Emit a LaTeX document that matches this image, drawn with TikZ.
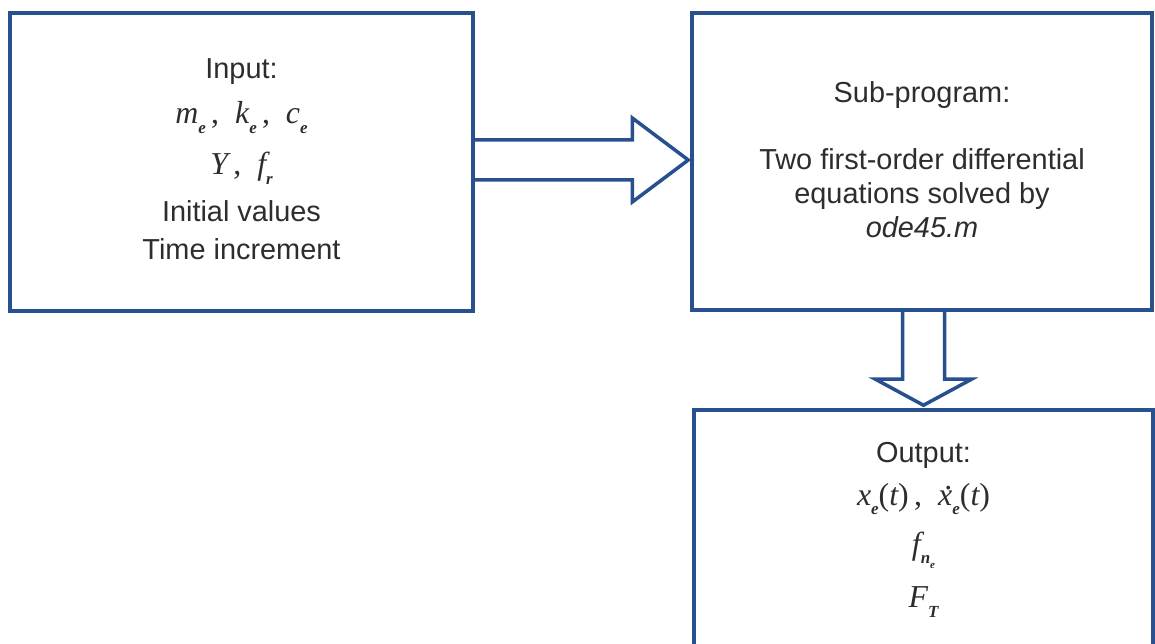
\documentclass[tikz,border=0pt]{standalone}
\usepackage{fontspec}
\setmainfont{Liberation Sans}
\newfontfamily\tnr{Liberation Serif}
\usetikzlibrary{calc}
\definecolor{boxblue}{RGB}{40,80,142}
\definecolor{txt}{RGB}{45,45,45}
\newcommand\mv[1]{{\fontsize{32}{34}\selectfont\tnr\itshape #1}}
\newcommand\sbs[1]{\raisebox{-0.3em}{\fontsize{17}{17}\selectfont\tnr\itshape\bfseries #1}}
\newcommand\ssbs[1]{\raisebox{-0.3em}{\fontsize{11}{11}\selectfont\tnr\itshape\bfseries #1}}
\newcommand\xdot{\ooalign{x\cr\hspace{0.2em}\raisebox{0.5em}{\upshape.}\cr}}
\newcommand\cm{\,{\upshape,}\enspace}
\newcommand\dstrut[1]{\rule[-#1]{0pt}{#1}}
\tikzset{
  x=1bp, y=-1bp,
  box/.style={draw=boxblue, line width=3.5bp, rectangle, inner sep=0pt,
    align=center, text=txt, font=\fontsize{29}{34}\selectfont},
  blockarrow/.style={draw=boxblue, line width=3.5bp, line join=miter}
}
\begin{document}
\begin{tikzpicture}
\fill[white] (0,0) rectangle (1155,644);
\useasboundingbox (0,0) rectangle (1155,644);

\node[box, minimum width=463bp, minimum height=298bp] (in) at (241.5,162)
  {Input:\\[11bp]
   \mv{m\sbs{e}\cm k\sbs{e}\cm c\sbs{e}}\\[17bp]
   \mv{Y\cm f\sbs{r}}\\[13bp]
   Initial values\\[4bp]
   Time increment\dstrut{6bp}};

\node[box, minimum width=460bp, minimum height=297bp] (sub) at (922,161.5)
  {Sub-program:\\[34bp]
   Two first-order differential\\
   equations solved by\\
   \textit{ode45.m}\dstrut{4.2bp}};

\node[box, minimum width=459bp, minimum height=240bp] (out) at (923.5,530)
  {Output:\\[9bp]
   \mv{x\sbs{e}{\upshape(}t{\upshape)}\cm \xdot\sbs{e}{\upshape(}t{\upshape)}}\\[15bp]
   \mv{f\sbs{n\ssbs{e}}}\\[17bp]
   \mv{F\sbs{T}}\dstrut{10bp}};

% right block arrow
\coordinate (rt) at ($(sub.west)+(-2,-1.5)$);
\coordinate (r1) at ($(rt)+(-56,-20)$);
\coordinate (r2) at ($(rt)+(-56,-42)$);
\coordinate (r3) at ($(rt)+(-56,42)$);
\coordinate (r4) at ($(rt)+(-56,20)$);
\draw[blockarrow] (in.east |- r1) -- (r1) -- (r2) -- (rt) -- (r3) -- (r4) -- (in.east |- r4);

% down block arrow
\coordinate (dt) at ($(out.north)+(0,-3)$);
\coordinate (d1) at ($(dt)+(-21,-26)$);
\coordinate (d2) at ($(dt)+(-48,-26)$);
\coordinate (d3) at ($(dt)+(48,-26)$);
\coordinate (d4) at ($(dt)+(21,-26)$);
\draw[blockarrow] (d1 |- sub.south) -- (d1) -- (d2) -- (dt) -- (d3) -- (d4) -- (d4 |- sub.south);
\end{tikzpicture}
\end{document}
